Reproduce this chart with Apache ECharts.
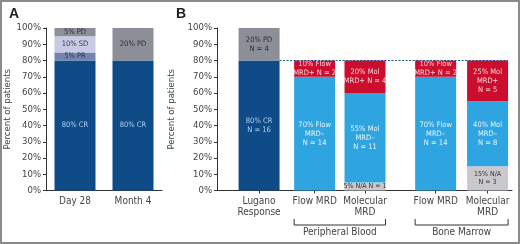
<!DOCTYPE html>
<html>
<head>
<meta charset="utf-8">
<script src="https://cdn.jsdelivr.net/npm/echarts@6/dist/echarts.min.js"></script>
<style>
  html, body { margin: 0; padding: 0; background: #fff; }
  #chart { width: 520px; height: 244px; }
  #frame { position: absolute; left: 0; top: 0; width: 520px; height: 244px; box-sizing: border-box;
           border: 2px solid #8a8a8a; pointer-events: none; }
</style>
</head>
<body>
<div id="chart"></div>
<div id="frame"></div>
<script>
// panel A: response by time point (percent of patients)
const categoriesA = ['Day 28', 'Month 4'];
const crA = [80, 80];
const prA = [5, 0];
const sdA = [10, 0];
const pdA = [5, 20];

// panel B: Lugano response vs MRD status
const categoriesB = ['Lugano\nResponse', 'Flow MRD', 'Molecular\nMRD', 'Flow MRD', 'Molecular\nMRD'];
const crB = [80, 0, 0, 0, 0];
const naB = [0, 0, 5, 0, 15];
const mrdNegB = [0, 70, 55, 70, 40];
const mrdPosB = [0, 10, 20, 10, 25];
const pdB = [20, 0, 0, 0, 0];
const crLabelsB = ['80% CR\nN = 16', '', '', '', ''];
const naLabelsB = ['', '', '5% N/A N = 1', '', '15% N/A\nN = 3'];
const mrdNegLabelsB = ['', '70% Flow\nMRD\u2013\nN = 14', '55% Mol\nMRD\u2013\nN = 11', '70% Flow\nMRD\u2013\nN = 14', '40% Mol\nMRD\u2013\nN = 8'];
const mrdPosLabelsB = ['', '10% Flow\nMRD+ N = 2', '20% Mol\nMRD+ N = 4', '10% Flow\nMRD+ N = 2', '25% Mol\nMRD+\nN = 5'];
const pdLabelsB = ['20% PD\nN = 4', '', '', '', ''];
const groupsB = [
  {name: 'Peripheral Blood', from: 1, to: 2},
  {name: 'Bone Marrow', from: 3, to: 4}
];
const refLineB = 80;

// x positions of the panel B bars (uneven gap between the blood and marrow groups)
const catPosB = [1, 2.07, 3.04, 4.4, 5.4];

const FONT = "'Liberation Sans Narrow', 'DejaVu Sans Condensed', Lato, sans-serif";
const BAR_W = 41;
const C = {
  cr: '#0e4b87', pr: '#7585b1', sd: '#c6cae4', pd: '#8d8f98',
  neg: '#2ea4e0', pos: '#cc0d2d', na: '#c9c9cd'
};

const chart = echarts.init(document.getElementById('chart'));

function yAxis(gridIndex) {
  return {
    type: 'value', gridIndex: gridIndex, min: 0, max: 100, interval: 10,
    name: 'Percent of patients', nameLocation: 'middle', nameGap: 25,
    nameTextStyle: {fontFamily: FONT, fontSize: 9.5, color: '#444'},
    axisLine: {show: true, lineStyle: {color: '#333', width: 1}},
    axisTick: {show: true, length: 3, lineStyle: {color: '#333'}},
    axisLabel: {formatter: '{value}%', fontFamily: FONT, fontSize: 9.5, color: '#444', margin: 5},
    splitLine: {show: false}
  };
}

function segLabel(color, texts, size) {
  return {
    show: true, position: 'inside', color: color, fontFamily: FONT,
    fontSize: size || 7.5, lineHeight: (size || 7.5) + 1.5,
    formatter: p => texts ? texts[p.dataIndex] : (p.value > 0 ? p.value + '% ' + p.seriesName : '')
  };
}

function barA(name, values, color, textColor) {
  return {
    name: name, type: 'bar', stack: 'a', xAxisIndex: 0, yAxisIndex: 0, barWidth: BAR_W,
    data: values, itemStyle: {color: color}, label: segLabel(textColor)
  };
}

// value first so the stack runs on the percent dimension, not the position
function barB(name, values, color, textColor, texts, size) {
  return {
    name: name, type: 'bar', stack: 'b', xAxisIndex: 1, yAxisIndex: 1, barWidth: BAR_W,
    encode: {x: 1, y: 0},
    data: values.map((v, i) => [v, catPosB[i]]),
    itemStyle: {color: color}, label: segLabel(textColor, texts, size)
  };
}

const option = {
  animation: false,
  grid: [
    {left: 46, width: 116, top: 28, height: 162.5},
    {left: 217, right: 8, top: 28, height: 162.5}
  ],
  xAxis: [
    {
      type: 'category', gridIndex: 0, data: categoriesA,
      axisLine: {lineStyle: {color: '#333'}},
      axisTick: {alignWithLabel: true, length: 3, lineStyle: {color: '#333'}},
      axisLabel: {fontFamily: FONT, fontSize: 10, color: '#444', margin: 6}
    },
    {
      type: 'value', gridIndex: 1, min: 0.19, max: 5.87,
      splitLine: {show: false},
      axisLine: {show: true, lineStyle: {color: '#333'}},
      axisTick: {show: true, length: 3, customValues: catPosB, lineStyle: {color: '#333'}},
      axisLabel: {
        customValues: catPosB, fontFamily: FONT, fontSize: 10, color: '#444', margin: 6, lineHeight: 10.5,
        formatter: v => {
          let best = 0;
          catPosB.forEach((p, i) => { if (Math.abs(p - v) < Math.abs(catPosB[best] - v)) best = i; });
          return categoriesB[best];
        }
      }
    }
  ],
  yAxis: [yAxis(0), yAxis(1)],
  series: [
    barA('CR', crA, C.cr, '#a9cdef'),
    barA('PR', prA, C.pr, '#2e3550'),
    barA('SD', sdA, C.sd, '#3a3d4c'),
    barA('PD', pdA, C.pd, '#2b2d33'),
    barB('CR', crB, C.cr, '#a9cdef', crLabelsB),
    barB('N/A', naB, C.na, '#333', naLabelsB, 7),
    barB('MRD-', mrdNegB, C.neg, '#e6f4fc', mrdNegLabelsB),
    barB('MRD+', mrdPosB, C.pos, '#f7d5da', mrdPosLabelsB),
    barB('PD', pdB, C.pd, '#2b2d33', pdLabelsB)
  ]
};
chart.setOption(option);

// annotations placed through the panel B scales
const toPx = (x, y) => chart.convertToPixel({gridIndex: 1}, [x, y]);
const half = BAR_W / 2;
const yRef = toPx(catPosB[0], refLineB)[1];
const yBase = toPx(catPosB[0], 0)[1];
const graphics = [
  {type: 'text', left: 9, top: 7, style: {text: 'A', font: 'bold 14px Arial, sans-serif', fill: '#222'}},
  {type: 'text', left: 176, top: 7, style: {text: 'B', font: 'bold 14px Arial, sans-serif', fill: '#222'}},
  {
    type: 'line', z: 5,
    shape: {x1: toPx(catPosB[0], 0)[0] + half, y1: yRef, x2: toPx(catPosB[4], 0)[0] + half, y2: yRef},
    style: {stroke: '#1d4f8a', lineWidth: 1, lineDash: [2, 1.5]}
  }
];
groupsB.forEach(g => {
  const x1 = toPx(catPosB[g.from], 0)[0] - half;
  const x2 = toPx(catPosB[g.to], 0)[0] + half;
  const yTop = yBase + 28.5, yBot = yBase + 34.5;
  graphics.push({
    type: 'polyline',
    shape: {points: [[x1, yTop], [x1, yBot], [x2, yBot], [x2, yTop]]},
    style: {stroke: '#333', lineWidth: 1, fill: null}
  });
  graphics.push({
    type: 'text', x: (x1 + x2) / 2, y: yBot + 7,
    style: {text: g.name, font: '10px ' + FONT, fill: '#444', align: 'center', verticalAlign: 'middle'}
  });
});
chart.setOption({graphic: graphics});
</script>
</body>
</html>
